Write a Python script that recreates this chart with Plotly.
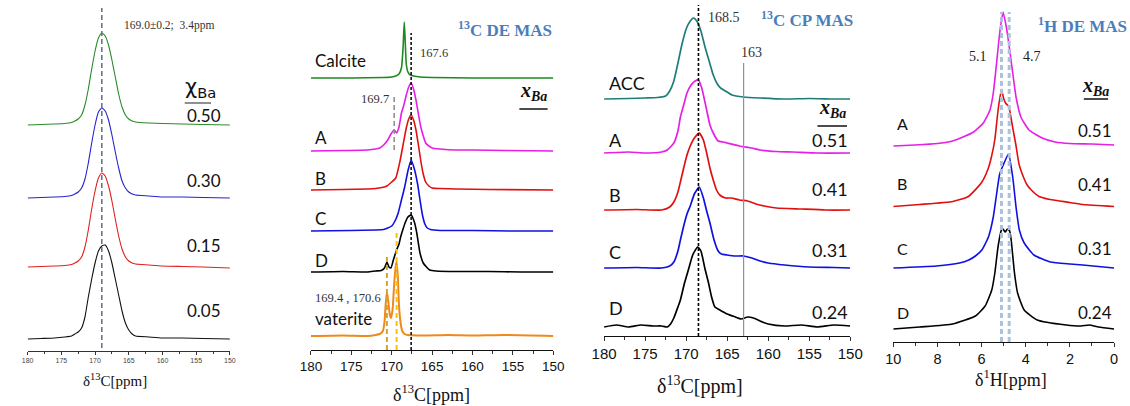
import plotly.graph_objects as go

# ---------------- DATA ----------------
# Panel 1: 13C spectra vs chi_Ba (ppm, intensity)
P1_PPM = [180, 178, 176, 174.5, 173.5, 173, 172.5, 172, 171.5, 171, 170.5, 170, 169.5, 169, 168.5,
          168, 167.5, 167, 166.5, 166, 165.5, 165, 164.5, 164, 162, 160, 157, 154, 150]
P1_050 = [0, 0.5, 1, 1.5, 2.5, 4, 6, 10, 20, 36, 56, 74, 87, 92, 89, 80, 65, 48, 31, 18, 10, 6, 4, 3, 2, 1.5, 1, 0.5, 0]
P1_030 = [0, 0.5, 1, 1.5, 2.5, 4, 6, 10, 19, 35, 55, 73, 86, 90, 87, 78, 63, 46, 30, 17, 10, 6, 4, 3, 2, 1, 1, 0.5, 0]
P1_015 = [0, 0.5, 1, 1.5, 2.5, 4, 6, 10, 20, 37, 58, 76, 89, 94, 91, 81, 66, 48, 31, 18, 10, 6, 4, 3, 2, 1, 0.5, 0, -1]
P1_005 = [0, 0.5, 1, 2, 3, 5, 7, 11, 22, 42, 60, 76, 88, 93, 94, 88, 76, 60, 44, 28, 16, 9, 5, 3, 2, 1, 1, 0.5, 0]
P1_LABELS = ["0.50", "0.30", "0.15", "0.05"]

# Panel 2: 13C DE MAS
P2_CAL_PPM = [180, 175, 171, 170, 169.5, 169.1, 168.8, 168.6, 168.45, 168.35, 168.2, 168.0, 167.7, 167.3, 166.5, 165, 160, 155, 150]
P2_CAL_I = [0, 0, 0.5, 1, 2, 4, 10, 30, 56, 40, 14, 6, 3, 2, 1, 0.5, 0, 0, 0]
P2_A_PPM = [180, 176, 173, 172, 171.5, 171, 170.5, 170.1, 169.7, 169.4, 169.1, 168.8, 168.5, 168.2, 167.9, 167.6,
            167.3, 167.0, 166.7, 166.4, 166.1, 165.8, 165.4, 165, 164, 162, 160, 156, 150]
P2_A_I = [0, 0.5, 1, 2, 3, 6, 11, 17, 21, 18, 24, 38, 46, 56, 64, 68, 62, 51, 37, 24, 15, 8, 5, 3, 2, 1, 1, 0.5, 0]
P2_B_PPM = [180, 176, 173, 172, 171.2, 170.6, 170, 169.5, 169.0, 168.6, 168.2, 167.9, 167.6, 167.3, 167.0, 166.7,
            166.4, 166.1, 165.8, 165.4, 165, 164, 162, 158, 150]
P2_B_I = [0, 0.5, 1, 1.5, 2.5, 4, 8, 12, 28, 45, 62, 71, 75, 70, 60, 45, 29, 16, 8, 4, 2, 1.5, 1, 0.5, 0]
P2_C_PPM = [180, 175, 172, 171, 170.5, 170, 169.6, 169.2, 168.8, 168.4, 168, 167.6, 167.2, 166.8, 166.5, 166.2,
            165.9, 165.6, 165.2, 164.8, 164, 160, 155, 150]
P2_C_I = [0, 0.5, 1, 1.5, 3, 5, 10, 18, 31, 44, 60, 71, 62, 47, 31, 16, 7, 3, 1.5, 1, 0.5, 0.5, 0, 0]
P2_D_PPM = [180, 176, 173, 172, 171.3, 170.9, 170.6, 170.35, 170.1, 169.8, 169.4, 169.1, 168.9, 168.6, 168.3,
            168.0, 167.6, 167.2, 166.9, 166.5, 166.1, 165.7, 165.3, 164.5, 162, 158, 154, 150]
P2_D_I = [0, 0.5, 0, 1, 1.5, 4, 10, 5, 4, 12, 22, 28, 35, 43, 50, 55, 57, 50, 39, 19, 9, 5, 2, 1, 0.5, 0.5, 0, 0]
P2_V_PPM = [180, 176, 173, 172, 171.5, 171.1, 170.9, 170.75, 170.6, 170.45, 170.25, 170.1, 169.9, 169.7, 169.5,
            169.4, 169.25, 169.1, 168.9, 168.7, 168.4, 168, 166, 163, 160, 156, 150]
P2_V_I = [0, 0.5, 0, 1, 2, 5, 14, 32, 44, 36, 22, 18, 26, 52, 70, 74, 60, 30, 13, 5, 2, 1, 0.5, 1, 0.5, 1, 0]
P2_NAMES = ["Calcite", "A", "B", "C", "D", "vaterite"]
P2_XBA = ["0.51", "0.41", "0.31", "0.24"]

# Panel 3: 13C CP MAS
P3_ACC_PPM = [180, 177, 175, 173.5, 172.5, 172, 171.5, 171, 170.5, 170, 169.5, 169.1, 168.7, 168.2, 167.7, 167.2,
              166.7, 166.2, 165.8, 165, 164.4, 163, 161, 158, 155, 152, 150]
P3_ACC_I = [0, 0.5, 1, 1.5, 3, 8, 18, 36, 55, 70, 78, 81, 78, 68, 52, 38, 24, 15, 11, 7, 4, 2, 1, 0, 0.5, 0, 0]
P3_A_PPM = [180, 177, 175, 173, 172.3, 171.5, 171, 170.7, 170.3, 169.9, 169.4, 168.9, 168.5, 168.1, 167.5, 167.1,
            166.7, 166.1, 165.5, 165, 163.5, 162, 161, 159, 157, 154, 150]
P3_A_I = [0, 1, 0, 1, 3, 10, 22, 36, 48, 60, 68, 72, 73, 65, 43, 28, 20, 12, 11, 10, 7, 5, 3, 1.5, 1, 0, 0]
P3_B_PPM = [180, 176, 173, 172, 171.5, 171, 170.7, 170.3, 169.9, 169.5, 169, 168.4, 167.9, 167.5, 167.1, 166.7,
            166.3, 165.9, 165.2, 164.5, 163.5, 162.5, 161.5, 160.5, 159, 156, 153, 150]
P3_B_I = [0, 0.5, 0, 3, 8, 18, 28, 42, 55, 64, 72, 77, 70, 57, 42, 30, 20, 15, 12, 12, 10, 9, 6, 4, 2, 1, 0, 0]
P3_C_PPM = [180, 176, 173, 172, 171.5, 171, 170.7, 170.3, 169.9, 169.5, 169, 168.4, 167.9, 167.5, 167.1, 166.6,
            166.1, 165.7, 165, 164, 163, 162, 161, 160, 158, 155, 152, 150]
P3_C_I = [0, 0.5, 0, 2, 6, 17, 28, 42, 54, 62, 74, 81, 70, 57, 45, 28, 17, 14, 13, 12, 12, 10, 7, 5, 3, 1, 0.5, 0]
P3_D_PPM = [180, 178.5, 177, 175.5, 174, 173, 172.3, 171.9, 171.5, 171, 170.7, 170.2, 169.7, 169.2, 168.6, 168.2,
            167.7, 167.3, 166.9, 166.5, 165.9, 165, 164, 163.3, 162.5, 161.8, 161, 160, 158, 156, 154, 152, 150]
P3_D_I = [0, 2, 0, 2, 1, 1, 0, 3, 9, 20, 27, 44, 58, 72, 80, 76, 58, 45, 30, 20, 17, 13, 10, 8, 10, 9, 6, 3, 1, 2, 0, 2, 1]
P3_NAMES = ["ACC", "A", "B", "C", "D"]
P3_XBA = ["0.51", "0.41", "0.31", "0.24"]

# Panel 4: 1H DE MAS
P4_A_PPM = [10, 9, 8, 7.4, 6.95, 6.36, 5.92, 5.62, 5.47, 5.32, 5.18, 5.03, 4.88, 4.77, 4.59, 4.44, 4.22, 3.85, 3.26, 2.67, 2, 1, 0]
P4_A_I = [-1, 0, 1.5, 3.5, 7, 13, 22, 35, 52, 82, 112, 133, 118, 102, 72, 48, 28, 15, 7, 3, 1.5, 1, 0]
P4_B_PPM = [10, 8.8, 7.3, 6.6, 6, 5.7, 5.55, 5.4, 5.25, 5.1, 5.0, 4.9, 4.77, 4.6, 4.45, 4.3, 4.15, 3.95, 3.77, 3.4, 2.9, 2, 1.4, 0]
P4_B_I = [0, 2, 5, 10, 24, 38, 50, 67, 97, 117, 108, 103, 100, 80, 62, 42, 32, 22, 17, 10, 7, 4, 2, 0]
P4_C_PPM = [10, 8.05, 7, 6.58, 6.28, 5.99, 5.69, 5.47, 5.32, 5.18, 5.0, 4.78, 4.59, 4.44, 4.29, 4.07, 3.63, 2.89, 2, 1.42, 0]
P4_C_I = [0, 2, 5, 8, 12, 18, 31, 51, 74, 94, 104, 114, 91, 61, 38, 25, 13, 6, 4, 3, 0]
P4_D_PPM = [10, 8.8, 7.31, 6.28, 5.84, 5.54, 5.4, 5.25, 5.1, 5.03, 4.93, 4.83, 4.73, 4.66, 4.51, 4.37, 4.07, 3.48, 2.17, 1.5, 1.12, 0.7, 0]
P4_D_I = [0, 2, 5, 13, 23, 39, 56, 83, 99, 100, 97, 100, 98, 89, 56, 36, 19, 9, 4, 3, 4, 2, 0]
P4_NAMES = ["A", "B", "C", "D"]
P4_XBA = ["0.51", "0.41", "0.31", "0.24"]

# reference lines (ppm)
P1_REF = 169.0
P2_REF_MAIN, P2_REF_SHOULDER, P2_VAT1, P2_VAT2 = 167.6, 169.7, 170.6, 169.4
P3_REF_MAIN, P3_REF_163 = 168.5, 163.0
P4_REF1, P4_REF2 = 5.1, 4.75

# ---------------- LAYOUT / STYLE ----------------
W, H = 1130, 406
SANS = "Lato, Liberation Sans, Arial, sans-serif"
SERIF = "Liberation Serif, Times New Roman, serif"
MAG, RED, BLUE, BLK = "#E61EE6", "#E01010", "#1010E0", "#000000"

# panel: x pixel domain, y pixel of axis line
PANELS = {
    1: dict(x0=15, x1=222, ybase=351, rng=[180, 150]),
    2: dict(x0=305, x1=553, ybase=350, rng=[180, 150]),
    3: dict(x0=605, x1=857, ybase=336, rng=[180, 150]),
    4: dict(x0=901, x1=1127, ybase=342, rng=[10, 0]),
}

fig = go.Figure()


def ax(n, kind):
    return kind if n == 1 else f"{kind}{n}"


def add_curve(n, ppm, inten, offset, color, width=1.5):
    fig.add_trace(go.Scatter(
        x=ppm, y=[v + offset for v in inten], mode="lines",
        line=dict(color=color, width=width, shape="spline", smoothing=0.5),
        xaxis=ax(n, "x"), yaxis=ax(n, "y"), hoverinfo="skip", showlegend=False))


def vline(n, x, y0, y1, color, dash="3px,2px", width=1.5):
    fig.add_shape(type="line", x0=x, x1=x, y0=y0, y1=y1, xref=ax(n, "x"), yref=ax(n, "y"),
                  line=dict(color=color, width=width, dash=dash), layer="above")


def hline(n, xa, xb, y, color="black", width=1.5):
    fig.add_shape(type="line", x0=xa, x1=xb, y0=y, y1=y, xref=ax(n, "x"), yref=ax(n, "y"),
                  line=dict(color=color, width=width))


def text(n, x, y, s, size, family=SANS, color="#111", xanchor="center", **kw):
    fig.add_annotation(x=x, y=y, xref=ax(n, "x"), yref=ax(n, "y"), text=s, showarrow=False,
                       xanchor=xanchor, yanchor="middle", font=dict(size=size, family=family, color=color), **kw)


def title(n, x, ypaper, s, size):
    fig.add_annotation(x=x, y=ypaper, xref=ax(n, "x"), yref="paper", text=s, showarrow=False,
                       xanchor="center", yanchor="middle", font=dict(size=size, family=SERIF, color="#111"))


# ---- Panel 1 ----
p1_off = [226, 153, 84, 12]
p1_col = ["#2A8A2A", "#2424D0", "#E02020", "#111111"]
for ser, off, col in zip([P1_050, P1_030, P1_015, P1_005], p1_off, p1_col):
    add_curve(1, P1_PPM, ser, off, col, 1.1)
vline(1, P1_REF, 3, 343, "#5C7084", dash="5px,3px", width=1.5)
text(1, 159.1, 326, "169.0±0.2;  3.4ppm", 11.5, SERIF, "#333")
text(1, 154.3, 263, "χ<sub>Ba</sub>", 21, "DejaVu Sans, sans-serif")
hline(1, 156.7, 152.8, 248, "#222", 1.2)
for lab, yy in zip(P1_LABELS, [236, 171, 106, 41]):
    text(1, 153.8, yy, lab, 17)
title(1, 167.0, (H - 380) / H, "δ<sup>13</sup>C[ppm]", 15)

# ---- Panel 2 ----
p2_series = [(P2_CAL_PPM, P2_CAL_I, "#1E8A1E"), (P2_A_PPM, P2_A_I, MAG), (P2_B_PPM, P2_B_I, RED),
             (P2_C_PPM, P2_C_I, BLUE), (P2_D_PPM, P2_D_I, BLK), (P2_V_PPM, P2_V_I, "#EE8A1C")]
p2_off = [272, 199, 160, 119, 78, 14]
for (xp, yi, col), off in zip(p2_series, p2_off):
    add_curve(2, xp, yi, off, col, 1.6 if col != "#EE8A1C" else 2.0)
vline(2, P2_REF_MAIN, 0, 317, "black", width=1.5)
vline(2, P2_REF_SHOULDER, 200, 255, "#8A8A8A", dash="5px,3px", width=1.5)
vline(2, P2_VAT1, 0, 95, "#D4A528", dash="5px,3px", width=2)
vline(2, P2_VAT2, 0, 118, "#FFC000", dash="5px,3px", width=2)
for lab, yy in zip(P2_NAMES, [290, 213, 172, 132, 90, 32]):
    text(2, 179.75, yy, lab, 17, xanchor="left")
for lab, yy in zip(P2_XBA, [213, 172, 132, 89]):
    text(2, 149.9, yy, lab, 17, xanchor="right")
text(2, 152.4, 259, "<b><i>x</i></b><sub><b><i>Ba</i></b></sub>", 20, SERIF)
hline(2, 154.2, 150.7, 241, "#111", 1.5)
text(2, 166.7, 297, "167.6", 12.5, SERIF, "#333", xanchor="left")
text(2, 170.1, 251, "169.7", 12.5, SERIF, "#333", xanchor="right")
text(2, 179.8, 52, "169.4 , 170.6", 12.5, SERIF, "#333", xanchor="left")
text(2, 156.0, 321, "<b><sup>13</sup>C DE MAS</b>", 17, SERIF, "#4A7EBB")
title(2, 165.1, (H - 393) / H, "δ<sup>13</sup>C[ppm]", 18)

# ---- Panel 3 ----
p3_series = [(P3_ACC_PPM, P3_ACC_I, "#1F7D79"), (P3_A_PPM, P3_A_I, MAG), (P3_B_PPM, P3_B_I, RED),
             (P3_C_PPM, P3_C_I, BLUE), (P3_D_PPM, P3_D_I, BLK)]
p3_off = [237, 183, 126, 68, 9]
for (xp, yi, col), off in zip(p3_series, p3_off):
    add_curve(3, xp, yi, off, col, 1.7)
vline(3, P3_REF_MAIN, 0, 331, "black", width=1.6)
vline(3, P3_REF_163, 0, 273, "#7F97AC", dash="solid", width=1.2)
for lab, yy in zip(P3_NAMES, [253, 196, 141, 84, 28]):
    text(3, 179.6, yy, lab, 18, xanchor="left")
for lab, yy in zip(P3_XBA, [196, 147, 86, 24]):
    text(3, 150.0, yy, lab, 18, xanchor="right")
text(3, 152.2, 228, "<b><i>x</i></b><sub><b><i>Ba</i></b></sub>", 20, SERIF)
hline(3, 154.0, 150.4, 210, "#111", 1.5)
text(3, 167.6, 319, "168.5", 14, SERIF, "#333", xanchor="left")
text(3, 162.0, 284, "163", 14, SERIF, "#333")
text(3, 155.3, 317, "<b><sup>13</sup>C CP MAS</b>", 17, SERIF, "#4A7EBB")
title(3, 168.3, (H - 385) / H, "δ<sup>13</sup>C[ppm]", 20)

# ---- Panel 4 ----
p4_series = [(P4_A_PPM, P4_A_I, MAG), (P4_B_PPM, P4_B_I, RED), (P4_C_PPM, P4_C_I, BLUE), (P4_D_PPM, P4_D_I, BLK)]
p4_off = [197, 135.5, 74, 13]
for (xp, yi, col), off in zip(p4_series, p4_off):
    add_curve(4, xp, yi, off, col, 1.6)
vline(4, P4_REF1, 0, 330, "#A9C2DE", dash="5px,3px", width=3)
vline(4, P4_REF2, 0, 330, "#A9C2DE", dash="5px,3px", width=3)
for lab, yy in zip(P4_NAMES, [219, 159, 94, 30]):
    text(4, 9.9, yy, lab, 16, xanchor="left")
for lab, yy in zip(P4_XBA, [212, 158, 94, 30]):
    text(4, 0.0, yy, lab, 17, xanchor="right")
text(4, 0.84, 256, "<b><i>x</i></b><sub><b><i>Ba</i></b></sub>", 20, SERIF)
hline(4, 1.37, 0.27, 243, "#111", 1.5)
text(4, 6.15, 286, "5.1", 14, SERIF, "#222")
text(4, 3.72, 286, "4.7", 14, SERIF, "#222")
text(4, 3.55, 317, "<b><sup>1</sup>H DE MAS</b>", 17, SERIF, "#4A7EBB", xanchor="left")
title(4, 4.65, (H - 378) / H, "δ<sup>1</sup>H[ppm]", 18)

# ---- axes ----
tick_sizes = {1: 7, 2: 13.5, 3: 15, 4: 14.5}
layout_axes = {}
for n, p in PANELS.items():
    ybase = p["ybase"]
    is_h = n == 4
    layout_axes[ax(n, "xaxis")] = dict(
        domain=[p["x0"] / W, p["x1"] / W], range=p["rng"], anchor=ax(n, "y"),
        showline=True, linecolor="#333" if n == 1 else "#111", linewidth=1, mirror=False,
        showgrid=False, zeroline=False, ticks="outside", ticklen=4 if n > 1 else 3,
        tickcolor="#333", tickwidth=1,
        tick0=0, dtick=2 if is_h else 5,
        minor=dict(ticks="outside", ticklen=3 if n > 1 else 2, dtick=1 if is_h else 2.5, tickcolor="#333"),
        tickfont=dict(size=tick_sizes[n], family="Liberation Sans, Arial, sans-serif",
                      color="#444" if n == 1 else "#111"),
        fixedrange=True)
    layout_axes[ax(n, "yaxis")] = dict(
        domain=[(H - ybase) / H, 1], range=[0, ybase], anchor=ax(n, "x"),
        visible=False, fixedrange=True)

fig.update_layout(width=W, height=H, margin=dict(l=0, r=0, t=0, b=0, pad=0),
                  paper_bgcolor="white", plot_bgcolor="white", showlegend=False, **layout_axes)

fig.write_html("out.html")
